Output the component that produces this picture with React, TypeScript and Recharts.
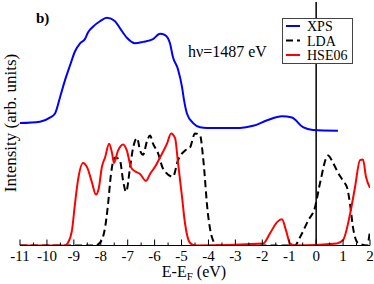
import { LineChart, Line, XAxis, YAxis, ReferenceLine, Legend } from 'recharts';

// points: [E - E_F (eV), intensity (arb.)]
const xpsPoints: [number, number][] = [
  [-11, 0.89], [-10.26, 0.9], [-9.89, 0.93], [-9.7, 0.96], [-9.51, 1.08], [-9.33, 1.2],
  [-9.14, 1.31], [-8.96, 1.41], [-8.77, 1.47], [-8.59, 1.5], [-8.47, 1.55], [-8.29, 1.59],
  [-8.03, 1.63], [-7.77, 1.655], [-7.47, 1.63], [-7.29, 1.58], [-7.03, 1.51], [-6.73, 1.47],
  [-6.43, 1.48], [-6.06, 1.5], [-5.8, 1.54], [-5.61, 1.53], [-5.43, 1.47], [-5.32, 1.37],
  [-5.13, 1.28], [-4.98, 1.15], [-4.91, 1.06], [-4.8, 0.96], [-4.57, 0.89], [-4.31, 0.86],
  [-4.05, 0.855], [-2.83, 0.855], [-2.34, 0.87], [-1.82, 0.91], [-1.27, 0.94], [-0.9, 0.93],
  [-0.49, 0.86], [-0.12, 0.84], [0.81, 0.835],
];

const ldaPoints: [number, number][] = [
  [-11, 0], [-8.21, 0], [-8.03, 0.02], [-7.84, 0.13], [-7.73, 0.3], [-7.62, 0.52], [-7.47, 0.64],
  [-7.29, 0.62], [-7.17, 0.47], [-7.06, 0.39], [-6.91, 0.57], [-6.8, 0.71], [-6.65, 0.78],
  [-6.54, 0.69], [-6.43, 0.66], [-6.28, 0.76], [-6.17, 0.8], [-6.06, 0.74], [-5.87, 0.67],
  [-5.69, 0.56], [-5.32, 0.5], [-5.13, 0.62], [-4.87, 0.69], [-4.69, 0.71], [-4.5, 0.815],
  [-4.31, 0.8], [-4.2, 0.64], [-4.02, 0.23], [-3.87, 0.06], [-3.68, 0], [-0.79, 0],
  [-0.6, 0.06], [-0.3, 0.18], [-0.04, 0.28], [0.14, 0.45], [0.44, 0.655], [0.63, 0.6],
  [0.81, 0.53], [1.0, 0.47], [1.15, 0.42], [1.26, 0.3], [1.37, 0.13], [1.55, 0.02],
  [1.89, 0], [2.0, 0.11],
];

const hsePoints: [number, number][] = [
  [-11, 0], [-9.33, 0], [-9.22, 0.02], [-9.07, 0.11], [-8.96, 0.3], [-8.85, 0.47], [-8.66, 0.6],
  [-8.51, 0.57], [-8.33, 0.46], [-8.18, 0.37], [-8.07, 0.42], [-7.96, 0.57], [-7.84, 0.64],
  [-7.69, 0.74], [-7.58, 0.67], [-7.51, 0.6], [-7.36, 0.69], [-7.17, 0.735], [-7.03, 0.69],
  [-6.88, 0.57], [-6.73, 0.54], [-6.54, 0.52], [-6.32, 0.47], [-6.17, 0.52], [-5.99, 0.57],
  [-5.8, 0.64], [-5.54, 0.74], [-5.39, 0.815], [-5.24, 0.78], [-5.13, 0.6], [-4.98, 0.35],
  [-4.87, 0.16], [-4.69, 0.02], [-4.5, 0], [-1.97, 0.015], [-1.71, 0.09], [-1.45, 0.17],
  [-1.27, 0.19], [-1.12, 0.11], [-0.97, 0.015], [-0.79, 0], [0.77, 0.015], [1.0, 0.04],
  [1.26, 0.23], [1.44, 0.42], [1.63, 0.62], [1.74, 0.625], [1.85, 0.5], [2.0, 0.42],
];

const majorTicks = [-11, -10, -9, -8, -7, -6, -5, -4, -3, -2, -1, 0, 1, 2];
const minorTicks = majorTicks.slice(0, -1).map((t) => t + 0.5);
const xTicks = [...majorTicks, ...minorTicks].sort((a, b) => a - b);
const yTicks = [1];

const toRows = (pts: [number, number][]) => pts.map(([e, v]) => ({ e, v }));

const FONT = 'Liberation Serif, Times New Roman, Times, serif';

const series = [
  { name: 'XPS', color: '#0000ff', dash: undefined as string | undefined, data: toRows(xpsPoints) },
  { name: 'LDA', color: '#000000', dash: '7 4', data: toRows(ldaPoints) },
  { name: 'HSE06', color: '#ff0000', dash: undefined as string | undefined, data: toRows(hsePoints) },
];

function BottomTick({ x, y, payload }: any) {
  const major = Number.isInteger(payload.value);
  return (
    <g>
      <line x1={x} x2={x} y1={y} y2={y - (major ? 6 : 3)} stroke="#000" />
      {major && (
        <text x={x} y={y + 15} textAnchor="middle" fill="#000" style={{ fontFamily: FONT, fontSize: 15 }}>
          {String(payload.value)}
        </text>
      )}
    </g>
  );
}

function TopTick({ x, y, payload }: any) {
  const major = Number.isInteger(payload.value);
  return <line x1={x} x2={x} y1={y} y2={y + (major ? 6 : 3)} stroke="#000" />;
}

function LeftTick({ x, y }: any) {
  return <line x1={x} x2={x + 7} y1={y} y2={y} stroke="#000" />;
}

function RightTick({ x, y }: any) {
  return <line x1={x} x2={x - 7} y1={y} y2={y} stroke="#000" />;
}

function LegendBox() {
  return (
    <svg width={71} height={46} style={{ display: 'block' }}>
      <rect x={0.5} y={0.5} width={70} height={45} fill="#fff" stroke="#444" />
      {series.map((s, i) => (
        <g key={s.name}>
          <line x1={4} x2={18} y1={8 + i * 14.5} y2={8 + i * 14.5} stroke={s.color} strokeWidth={2} strokeDasharray={s.dash} />
          <text x={25} y={13 + i * 14.5} fill="#000" style={{ fontFamily: FONT, fontSize: 14 }}>
            {s.name}
          </text>
        </g>
      ))}
    </svg>
  );
}

export default function App() {
  return (
    <div style={{ position: 'absolute', left: 0, top: 0, width: 374, height: 284, background: '#fff', fontFamily: FONT }}>
      <LineChart width={374} height={284} margin={{ top: 2, right: 4, bottom: 0, left: 20 }}>
        <XAxis
          xAxisId="bottom"
          type="number"
          dataKey="e"
          domain={[-11, 2]}
          ticks={xTicks}
          interval={0}
          allowDataOverflow
          height={38.5}
          tickSize={0}
          tickMargin={0}
          tickLine={false}
          tick={<BottomTick />}
          axisLine={{ stroke: '#000' }}
        />
        <XAxis
          xAxisId="top"
          orientation="top"
          type="number"
          dataKey="e"
          domain={[-11, 2]}
          ticks={xTicks}
          interval={0}
          allowDataOverflow
          height={0}
          tickSize={0}
          tickMargin={0}
          tickLine={false}
          tick={<TopTick />}
          axisLine={{ stroke: '#000' }}
        />
        <YAxis
          yAxisId="left"
          type="number"
          domain={[0, 1.77]}
          ticks={yTicks}
          allowDataOverflow
          width={0}
          tickSize={0}
          tickMargin={0}
          tickLine={false}
          tick={<LeftTick />}
          axisLine={{ stroke: '#000' }}
        />
        <YAxis
          yAxisId="right"
          orientation="right"
          type="number"
          domain={[0, 1.77]}
          ticks={yTicks}
          allowDataOverflow
          width={0}
          tickSize={0}
          tickMargin={0}
          tickLine={false}
          tick={<RightTick />}
          axisLine={{ stroke: '#000' }}
        />
        <ReferenceLine xAxisId="bottom" yAxisId="left" x={0} stroke="#000" strokeWidth={1.5} />
        {series.map((s) => (
          <Line
            key={s.name}
            xAxisId="bottom"
            yAxisId="left"
            data={s.data}
            dataKey="v"
            name={s.name}
            type="monotone"
            stroke={s.color}
            strokeWidth={2}
            strokeDasharray={s.dash}
            dot={false}
            activeDot={false}
            isAnimationActive={false}
          />
        ))}
        <Legend
          layout="horizontal"
          verticalAlign="middle"
          align="center"
          content={() => <LegendBox />}
          wrapperStyle={{ position: 'absolute', left: 282, top: 18, width: 71, height: 46 }}
        />
      </LineChart>
      <svg
        width={374}
        height={284}
        style={{ position: 'absolute', left: 0, top: 0, pointerEvents: 'none', fontFamily: FONT }}
      >
        <text x={36} y={23} fontSize={15} fontWeight="bold" fill="#000">b)</text>
        <text x={188} y={57} fontSize={16} fill="#000">hν=1487 eV</text>
        <text x={16} y={123} fontSize={17} fill="#000" textAnchor="middle" transform="rotate(-90 16 123)">
          Intensity (arb. units)
        </text>
        <text x={194} y={277} fontSize={16} fill="#000" textAnchor="middle">
          E-E<tspan fontSize={11} dy={3}>F</tspan>
          <tspan dy={-3}> (eV)</tspan>
        </text>
      </svg>
    </div>
  );
}
